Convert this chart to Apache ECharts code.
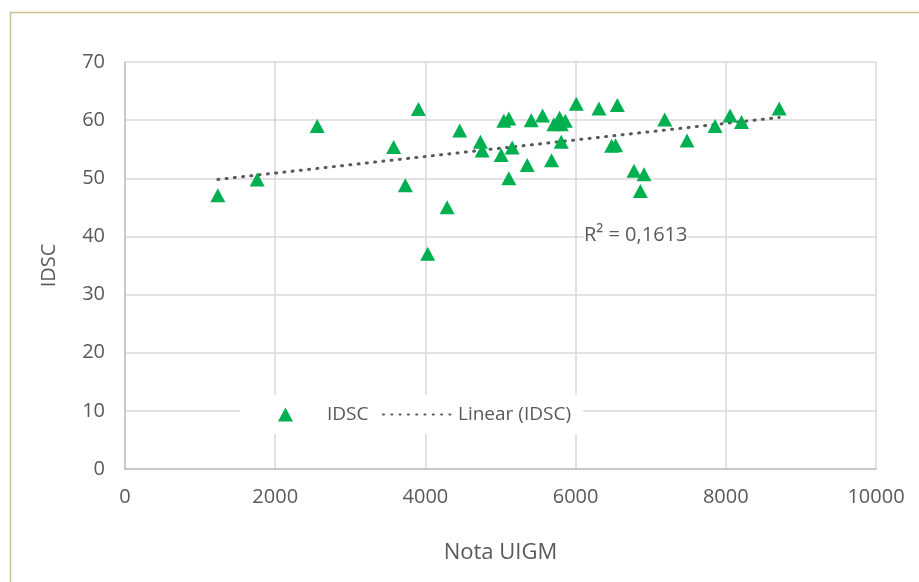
<!DOCTYPE html>
<html>
<head>
<meta charset="utf-8">
<script src="https://cdn.jsdelivr.net/npm/echarts@6/dist/echarts.min.js"></script>
<style>
  html, body { margin: 0; padding: 0; background: #fff; }
  #main { width: 919px; height: 582px; }
</style>
</head>
<body>
<div id="main"></div>
<script>
// values
const notaUIGM = [
  1236, 1760, 2560, 3577, 3733, 3907, 4031, 4289, 4457, 4733,
  4756, 5009, 5044, 5111, 5111, 5156, 5356, 5409, 5560, 5680,
  5711, 5787, 5809, 5863, 5809, 6009, 6311, 6556, 6480, 6533,
  6778, 6911, 6862, 7187, 7484, 7857, 8057, 8209, 8711
];
const idsc = [
  47.1, 49.8, 59.0, 55.4, 48.8, 61.9, 37.0, 45.0, 58.2, 56.3,
  54.8, 54.0, 59.9, 60.3, 50.0, 55.3, 52.3, 60.0, 60.8, 53.1,
  59.3, 60.4, 59.3, 59.9, 56.3, 62.8, 62.0, 62.6, 55.6, 55.7,
  51.3, 50.7, 47.8, 60.1, 56.5, 59.0, 60.8, 59.7, 62.0
];
const xTicks = [0, 2000, 4000, 6000, 8000, 10000];
const yTicks = [0, 10, 20, 30, 40, 50, 60, 70];
const r2Label = 'R² = 0,1613';

const font = '"Open Sans", sans-serif';
const textColor = '#595959';

// least squares fit for the linear trendline
function linearFit(xs, ys) {
  const n = xs.length;
  let sx = 0, sy = 0, sxx = 0, sxy = 0;
  for (let i = 0; i < n; i++) {
    sx += xs[i]; sy += ys[i];
    sxx += xs[i] * xs[i]; sxy += xs[i] * ys[i];
  }
  const b = (n * sxy - sx * sy) / (n * sxx - sx * sx);
  const a = (sy - b * sx) / n;
  return { a, b };
}

const points = notaUIGM.map((x, i) => [x, idsc[i]]);
const fit = linearFit(notaUIGM, idsc);
const xMin = Math.min(...notaUIGM);
const xMax = Math.max(...notaUIGM);
const trend = [[xMin, fit.a + fit.b * xMin], [xMax, fit.a + fit.b * xMax]];

const triangle = 'path://M0,14L7.5,0L15,14Z';

const chart = echarts.init(document.getElementById('main'));

const legendText = { color: textColor, fontSize: 19, fontFamily: font };

const options = {
  animation: false,
  backgroundColor: '#fff',
  textStyle: { fontFamily: font },
  grid: { left: 125, right: 43, top: 62, bottom: 113 },
  legend: [
    {
      // scatter entry
      left: 240,
      top: 395,
      padding: [10, 2, 10, 38],
      backgroundColor: '#fff',
      itemWidth: 15,
      itemHeight: 14,
      textStyle: Object.assign({ padding: [0, 0, 0, 29] }, legendText),
      data: [{ name: 'IDSC', icon: triangle }]
    },
    {
      // trendline entry
      left: 369,
      top: 395,
      padding: [10, 12, 10, 13],
      backgroundColor: '#fff',
      itemWidth: 68,
      itemHeight: 14,
      textStyle: Object.assign({ padding: [0, 0, 0, 2] }, legendText),
      data: ['Linear (IDSC)']
    }
  ],
  xAxis: {
    type: 'value',
    min: xTicks[0],
    max: xTicks[xTicks.length - 1],
    interval: xTicks[1] - xTicks[0],
    name: 'Nota UIGM',
    nameLocation: 'middle',
    nameGap: 73,
    nameTextStyle: { color: textColor, fontSize: 22, fontFamily: font },
    axisLine: { show: true, lineStyle: { color: '#bfbfbf', width: 1.5 } },
    axisTick: { show: false },
    axisLabel: { color: textColor, fontSize: 20, margin: 18, formatter: v => String(v) },
    splitLine: { lineStyle: { color: '#d9d9d9', width: 1.5 } }
  },
  yAxis: {
    type: 'value',
    min: yTicks[0],
    max: yTicks[yTicks.length - 1],
    interval: yTicks[1] - yTicks[0],
    name: 'IDSC',
    nameLocation: 'middle',
    nameGap: 66,
    nameTextStyle: { color: textColor, fontSize: 20, fontFamily: font },
    axisLine: { show: true, lineStyle: { color: '#bfbfbf', width: 1.5 } },
    axisTick: { show: false },
    axisLabel: { color: textColor, fontSize: 20, margin: 20 },
    splitLine: { lineStyle: { color: '#d9d9d9', width: 1.5 } }
  },
  graphic: [
    {
      // outer chart border, only left and top edges fall inside the picture
      type: 'rect',
      silent: true,
      shape: { x: 10.5, y: 12.5, width: 1000, height: 700 },
      style: { fill: 'none', stroke: '#c9bf93', lineWidth: 1.5 }
    },
    {
      type: 'text',
      left: 584,
      top: 225,
      z: 10,
      style: {
        text: r2Label,
        fill: textColor,
        font: '20px ' + font,
        backgroundColor: '#fff'
      }
    }
  ],
  series: [
    {
      name: 'IDSC',
      type: 'scatter',
      symbol: triangle,
      symbolSize: [15, 14],
      itemStyle: { color: '#00b050', opacity: 1 },
      data: points,
      z: 3
    },
    {
      name: 'Linear (IDSC)',
      type: 'line',
      symbol: 'none',
      data: trend,
      itemStyle: { color: 'rgba(0,0,0,0)' },
      lineStyle: { color: '#595959', width: 3, type: [1, 7.3], cap: 'round' },
      z: 2
    }
  ]
};

chart.setOption(options);
</script>
</body>
</html>
